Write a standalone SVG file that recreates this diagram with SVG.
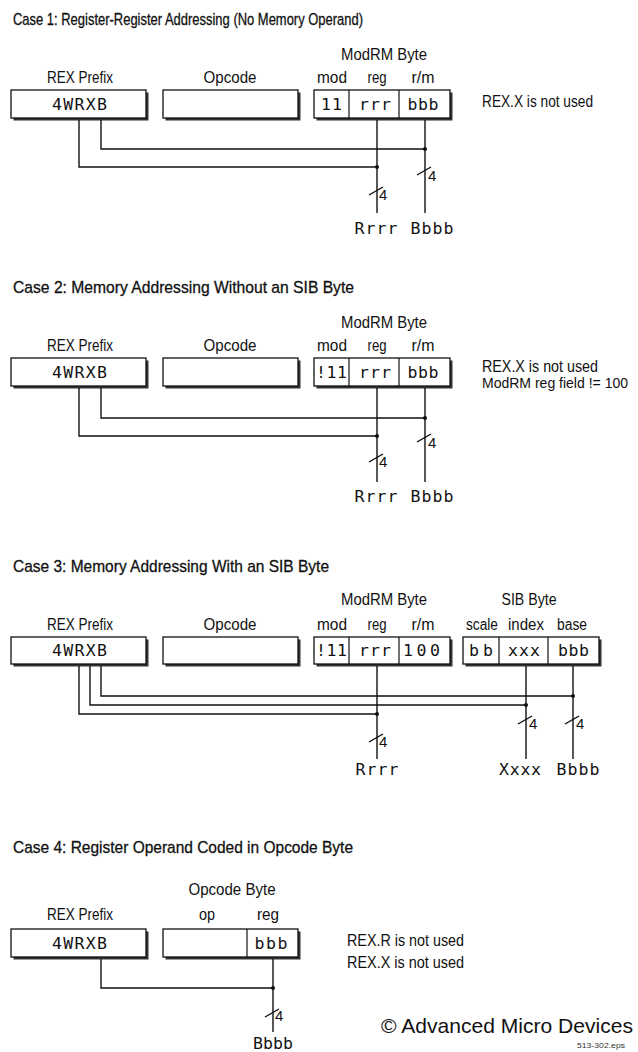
<svg xmlns="http://www.w3.org/2000/svg" width="638" height="1052" viewBox="0 0 638 1052">
<style>
.title{font-family:"Liberation Sans",Arial,sans-serif;font-size:17px;fill:#111;stroke:#111;stroke-width:0.3}
.lbl{font-family:"Liberation Sans",Arial,sans-serif;font-size:16px;fill:#111;text-anchor:middle}
.note{font-family:"Liberation Sans",Arial,sans-serif;font-size:16px;fill:#111}
.note2{font-family:"Liberation Sans",Arial,sans-serif;font-size:14px;fill:#111}
.mono{font-family:"DejaVu Sans Mono","Liberation Mono",monospace;font-size:16.5px;fill:#111;text-anchor:middle}
.four{font-family:"Liberation Sans",Arial,sans-serif;font-size:15px;fill:#111}
.sh{fill:#333}
.box{fill:#fff;stroke:#111;stroke-width:1.3}
.div{stroke:#111;stroke-width:1.2}
.wire{fill:none;stroke:#111;stroke-width:1.4}
.dot{fill:#111}
</style>
<rect width="638" height="1052" fill="#fff"/>

<!-- ================= CASE 1 ================= -->
<g id="case1-title"><text class="title" x="13" y="25" textLength="350" lengthAdjust="spacingAndGlyphs">Case 1: Register-Register Addressing (No Memory Operand)</text></g>
<g id="case1-rex">
<text class="lbl" x="80" y="83" textLength="66" lengthAdjust="spacingAndGlyphs">REX Prefix</text>
<rect class="sh" x="13.5" y="92.5" width="135" height="28"/>
<rect class="box" x="11" y="90" width="135" height="28"/>
<text class="mono" x="79.5" y="110" textLength="55">4WRXB</text>
</g>
<g id="case1-opcode">
<text class="lbl" x="230" y="83" textLength="53" lengthAdjust="spacingAndGlyphs">Opcode</text>
<rect class="sh" x="165.5" y="92.5" width="135" height="28"/>
<rect class="box" x="163" y="90" width="135" height="28"/>
</g>
<g id="case1-modrm">
<text class="lbl" x="384" y="60" textLength="86" lengthAdjust="spacingAndGlyphs">ModRM Byte</text>
<text class="lbl" x="332" y="83" textLength="30" lengthAdjust="spacingAndGlyphs">mod</text>
<text class="lbl" x="377" y="83" textLength="19" lengthAdjust="spacingAndGlyphs">reg</text>
<text class="lbl" x="423" y="83" textLength="23" lengthAdjust="spacingAndGlyphs">r/m</text>
<rect class="sh" x="316.5" y="92.5" width="136" height="28"/>
<rect class="box" x="314" y="90" width="136" height="28"/>
<line class="div" x1="349" y1="90" x2="349" y2="118"/>
<line class="div" x1="399" y1="90" x2="399" y2="118"/>
<text class="mono" x="331.5" y="110" textLength="21">11</text>
<text class="mono" x="375" y="110" textLength="32">rrr</text>
<text class="mono" x="423" y="110" textLength="31">bbb</text>
</g>
<g id="case1-note"><text class="note" x="482" y="107" textLength="111" lengthAdjust="spacingAndGlyphs">REX.X is not used</text></g>
<g id="case1-out-r"><text class="mono" x="376" y="234" textLength="43">Rrrr</text></g>
<g id="case1-out-b"><text class="mono" x="432" y="234" textLength="43">Bbbb</text></g>

<!-- ================= CASE 2 ================= -->
<g id="case2-title"><text class="title" x="13" y="293" textLength="341" lengthAdjust="spacingAndGlyphs">Case 2: Memory Addressing Without an SIB Byte</text></g>
<g id="case2-rex">
<text class="lbl" x="80" y="351" textLength="66" lengthAdjust="spacingAndGlyphs">REX Prefix</text>
<rect class="sh" x="13.5" y="360.5" width="135" height="28"/>
<rect class="box" x="11" y="358" width="135" height="28"/>
<text class="mono" x="79.5" y="378" textLength="55">4WRXB</text>
</g>
<g id="case2-opcode">
<text class="lbl" x="230" y="351" textLength="53" lengthAdjust="spacingAndGlyphs">Opcode</text>
<rect class="sh" x="165.5" y="360.5" width="135" height="28"/>
<rect class="box" x="163" y="358" width="135" height="28"/>
</g>
<g id="case2-modrm">
<text class="lbl" x="384" y="328" textLength="86" lengthAdjust="spacingAndGlyphs">ModRM Byte</text>
<text class="lbl" x="332" y="351" textLength="30" lengthAdjust="spacingAndGlyphs">mod</text>
<text class="lbl" x="377" y="351" textLength="19" lengthAdjust="spacingAndGlyphs">reg</text>
<text class="lbl" x="423" y="351" textLength="23" lengthAdjust="spacingAndGlyphs">r/m</text>
<rect class="sh" x="316.5" y="360.5" width="136" height="28"/>
<rect class="box" x="314" y="358" width="136" height="28"/>
<line class="div" x1="349" y1="358" x2="349" y2="386"/>
<line class="div" x1="399" y1="358" x2="399" y2="386"/>
<text class="mono" x="331.5" y="378" textLength="31">!11</text>
<text class="mono" x="375" y="378" textLength="32">rrr</text>
<text class="mono" x="423" y="378" textLength="31">bbb</text>
</g>
<g id="case2-note">
<text class="note" x="482" y="372" textLength="116" lengthAdjust="spacingAndGlyphs">REX.X is  not used</text>
<text class="note2" x="482" y="388" textLength="146" lengthAdjust="spacingAndGlyphs">ModRM reg field != 100</text>
</g>
<g id="case2-out-r"><text class="mono" x="376" y="502" textLength="43">Rrrr</text></g>
<g id="case2-out-b"><text class="mono" x="432" y="502" textLength="43">Bbbb</text></g>

<!-- ================= CASE 3 ================= -->
<g id="case3-title"><text class="title" x="13" y="572" textLength="316" lengthAdjust="spacingAndGlyphs">Case 3: Memory Addressing With an SIB Byte</text></g>
<g id="case3-rex">
<text class="lbl" x="80" y="630" textLength="66" lengthAdjust="spacingAndGlyphs">REX Prefix</text>
<rect class="sh" x="13.5" y="639.5" width="135" height="27"/>
<rect class="box" x="11" y="637" width="135" height="27"/>
<text class="mono" x="79.5" y="656" textLength="55">4WRXB</text>
</g>
<g id="case3-opcode">
<text class="lbl" x="230" y="630" textLength="53" lengthAdjust="spacingAndGlyphs">Opcode</text>
<rect class="sh" x="165.5" y="639.5" width="135" height="27"/>
<rect class="box" x="163" y="637" width="135" height="27"/>
</g>
<g id="case3-modrm">
<text class="lbl" x="384" y="605" textLength="86" lengthAdjust="spacingAndGlyphs">ModRM Byte</text>
<text class="lbl" x="332" y="630" textLength="30" lengthAdjust="spacingAndGlyphs">mod</text>
<text class="lbl" x="377" y="630" textLength="19" lengthAdjust="spacingAndGlyphs">reg</text>
<text class="lbl" x="423" y="630" textLength="23" lengthAdjust="spacingAndGlyphs">r/m</text>
<rect class="sh" x="316.5" y="639.5" width="136" height="27"/>
<rect class="box" x="314" y="637" width="136" height="27"/>
<line class="div" x1="349" y1="637" x2="349" y2="664"/>
<line class="div" x1="399" y1="637" x2="399" y2="664"/>
<text class="mono" x="331.5" y="656" textLength="31">!11</text>
<text class="mono" x="375" y="656" textLength="32">rrr</text>
<text class="mono" x="421.5" y="656" textLength="37">100</text>
</g>
<g id="case3-sib">
<text class="lbl" x="529" y="605" textLength="55" lengthAdjust="spacingAndGlyphs">SIB Byte</text>
<text class="lbl" x="482" y="630" textLength="32" lengthAdjust="spacingAndGlyphs">scale</text>
<text class="lbl" x="526" y="630" textLength="36" lengthAdjust="spacingAndGlyphs">index</text>
<text class="lbl" x="572" y="630" textLength="30" lengthAdjust="spacingAndGlyphs">base</text>
<rect class="sh" x="465.5" y="639.5" width="136" height="27"/>
<rect class="box" x="463" y="637" width="136" height="27"/>
<line class="div" x1="499" y1="637" x2="499" y2="664"/>
<line class="div" x1="548" y1="637" x2="548" y2="664"/>
<text class="mono" x="481" y="656" textLength="24">bb</text>
<text class="mono" x="524" y="656" textLength="32">xxx</text>
<text class="mono" x="573.5" y="656" textLength="31">bbb</text>
</g>
<g id="case3-out-r"><text class="mono" x="377" y="775" textLength="43">Rrrr</text></g>
<g id="case3-out-x"><text class="mono" x="520" y="775" textLength="42">Xxxx</text></g>
<g id="case3-out-b"><text class="mono" x="578" y="775" textLength="43">Bbbb</text></g>

<!-- ================= CASE 4 ================= -->
<g id="case4-title"><text class="title" x="13" y="853" textLength="340" lengthAdjust="spacingAndGlyphs">Case 4: Register Operand Coded in Opcode Byte</text></g>
<g id="case4-rex">
<text class="lbl" x="80" y="920" textLength="66" lengthAdjust="spacingAndGlyphs">REX Prefix</text>
<rect class="sh" x="13.5" y="931.5" width="135" height="28"/>
<rect class="box" x="11" y="929" width="135" height="28"/>
<text class="mono" x="79.5" y="949" textLength="55">4WRXB</text>
</g>
<g id="case4-opcode">
<text class="lbl" x="232" y="895" textLength="87" lengthAdjust="spacingAndGlyphs">Opcode Byte</text>
<text class="lbl" x="207" y="920" textLength="16" lengthAdjust="spacingAndGlyphs">op</text>
<text class="lbl" x="268" y="920" textLength="22" lengthAdjust="spacingAndGlyphs">reg</text>
<rect class="sh" x="165.5" y="931.5" width="135" height="28"/>
<rect class="box" x="163" y="929" width="135" height="28"/>
<line class="div" x1="247" y1="929" x2="247" y2="957"/>
<text class="mono" x="271" y="949" textLength="33">bbb</text>
</g>
<g id="case4-note">
<text class="note" x="347" y="946" textLength="117" lengthAdjust="spacingAndGlyphs">REX.R is  not used</text>
<text class="note" x="347" y="968" textLength="117" lengthAdjust="spacingAndGlyphs">REX.X is  not used</text>
</g>
<g id="case4-out-b"><text class="mono" x="273" y="1049" textLength="40">Bbbb</text></g>

<g id="credit">
<text x="381" y="1033" font-family="'Liberation Sans',Arial,sans-serif" font-size="21" fill="#111" textLength="252" lengthAdjust="spacingAndGlyphs">© Advanced Micro Devices</text>
<text x="577" y="1048" font-family="'Liberation Sans',Arial,sans-serif" font-size="8" fill="#333" textLength="48" lengthAdjust="spacingAndGlyphs">513-302.eps</text>
</g>

<!-- ================= CONNECTORS ================= -->
<g id="connectors">
<!-- case 1 -->
<polyline class="wire" points="101,120 101,149 425,149"/>
<polyline class="wire" points="79,120 79,167 377,167"/>
<line class="wire" x1="377" y1="120" x2="377" y2="213"/>
<line class="wire" x1="425" y1="120" x2="425" y2="213"/>
<circle class="dot" cx="425" cy="149" r="2"/>
<circle class="dot" cx="377" cy="167" r="2"/>
<line class="wire" x1="369" y1="195" x2="383" y2="187"/>
<text class="four" x="379" y="200">4</text>
<line class="wire" x1="417" y1="175" x2="431" y2="167"/>
<text class="four" x="428" y="181">4</text>
<!-- case 2 -->
<polyline class="wire" points="101,388 101,418 425,418"/>
<polyline class="wire" points="79,388 79,436 377,436"/>
<line class="wire" x1="377" y1="388" x2="377" y2="482"/>
<line class="wire" x1="425" y1="388" x2="425" y2="482"/>
<circle class="dot" cx="425" cy="418" r="2"/>
<circle class="dot" cx="377" cy="436" r="2"/>
<line class="wire" x1="369" y1="462" x2="383" y2="454"/>
<text class="four" x="379" y="467">4</text>
<line class="wire" x1="417" y1="442" x2="431" y2="434"/>
<text class="four" x="428" y="448">4</text>
<!-- case 3 -->
<polyline class="wire" points="101,666 101,696 573,696"/>
<polyline class="wire" points="90,666 90,705 526,705"/>
<polyline class="wire" points="79,666 79,714 377,714"/>
<line class="wire" x1="377" y1="666" x2="377" y2="759"/>
<line class="wire" x1="526" y1="666" x2="526" y2="759"/>
<line class="wire" x1="573" y1="666" x2="573" y2="759"/>
<circle class="dot" cx="573" cy="696" r="2"/>
<circle class="dot" cx="526" cy="705" r="2"/>
<circle class="dot" cx="377" cy="714" r="2"/>
<line class="wire" x1="369" y1="742" x2="383" y2="734"/>
<text class="four" x="379" y="747">4</text>
<line class="wire" x1="518" y1="724" x2="532" y2="716"/>
<text class="four" x="529" y="729">4</text>
<line class="wire" x1="565" y1="724" x2="579" y2="716"/>
<text class="four" x="576" y="729">4</text>
<!-- case 4 -->
<polyline class="wire" points="101,959 101,988 273,988"/>
<line class="wire" x1="273" y1="959" x2="273" y2="1032"/>
<circle class="dot" cx="273" cy="988" r="2"/>
<line class="wire" x1="265" y1="1017" x2="279" y2="1009"/>
<text class="four" x="275" y="1021">4</text>
</g>
</svg>
